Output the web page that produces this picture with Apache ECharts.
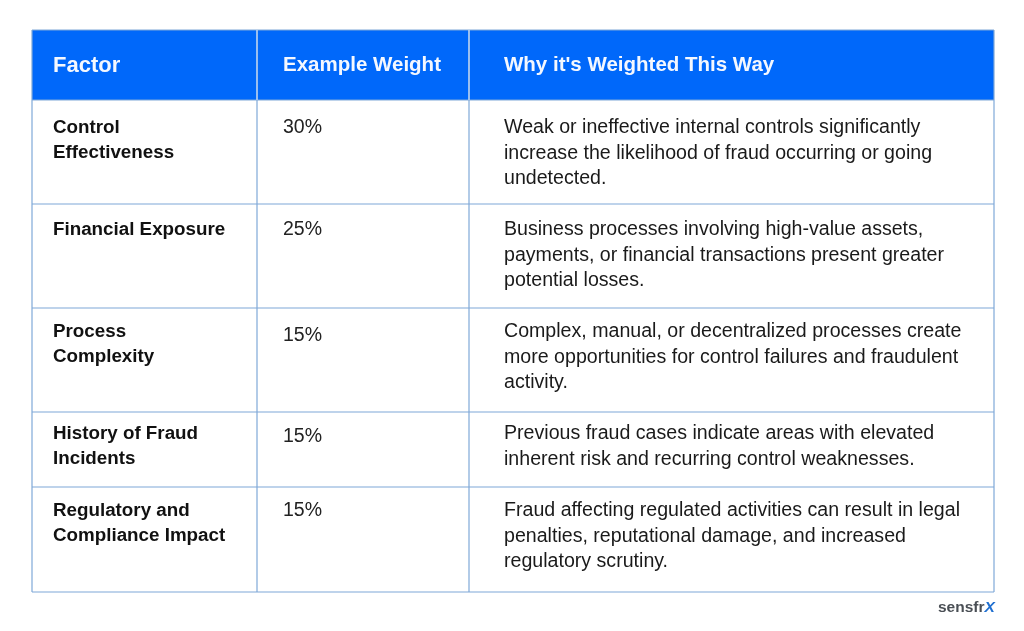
<!DOCTYPE html>
<html><head><meta charset="utf-8">
<style>html,body{margin:0;padding:0;background:#fff}#c{width:1024px;height:631px}</style>
<script src="https://cdn.jsdelivr.net/npm/echarts@6/dist/echarts.min.js"></script>
</head><body><div id="c"></div>
<script>
const headers = ["Factor", "Example Weight", "Why it's Weighted This Way"];
const factors = [["Control","Effectiveness"],["Financial Exposure"],["Process","Complexity"],["History of Fraud","Incidents"],["Regulatory and","Compliance Impact"]];
const weights = ["30%","25%","15%","15%","15%"];
const reasons = [
 ["Weak or ineffective internal controls significantly","increase the likelihood of fraud occurring or going","undetected."],
 ["Business processes involving high-value assets,","payments, or financial transactions present greater","potential losses."],
 ["Complex, manual, or decentralized processes create","more opportunities for control failures and fraudulent","activity."],
 ["Previous fraud cases indicate areas with elevated","inherent risk and recurring control weaknesses."],
 ["Fraud affecting regulated activities can result in legal","penalties, reputational damage, and increased","regulatory scrutiny."]
];
// layout
const colEdges = [32,257,469,994];
const rowEdges = [30,100,204,308,412,487,592];
const colText = [53,283,504];
const firstLineY = [127.5,229.5,331.5,433.5,510.5];
const weightY = [128,230,336,437,511];
const lineGap = 25.7;
const FONT = '"Liberation Sans", Arial, sans-serif';
const LINE = '#7fa8d8', BLUE = '#0068fa';

const chart = echarts.init(document.getElementById('c'), null, {renderer:'canvas'});
function txt(api,x,y,s,size,weight,color){
  const p = api.coord([x,y]);
  return {type:'text',style:{x:p[0],y:p[1],text:s,fontFamily:FONT,fontSize:size,fontWeight:weight,fill:color,verticalAlign:'middle',align:'left'},silent:true};
}
function seg(api,x1,y1,x2,y2,color){
  const a=api.coord([x1,y1]),b=api.coord([x2,y2]);
  return {type:'line',shape:{x1:a[0],y1:a[1],x2:b[0],y2:b[1]},style:{stroke:color,lineWidth:1.2}};
}
function render(params,api){
  const kids=[];
  const a=api.coord([colEdges[0],rowEdges[0]]),b=api.coord([colEdges[3],rowEdges[1]]);
  if(params.dataIndex===0){
    kids.push({type:'rect',shape:{x:a[0],y:a[1],width:b[0]-a[0],height:b[1]-a[1]},style:{fill:BLUE}});
    rowEdges.slice(1).forEach(y=>kids.push(seg(api,colEdges[0],y,colEdges[3],y,LINE)));
    colEdges.forEach(x=>kids.push(seg(api,x,rowEdges[0],x,rowEdges[6],LINE)));
    kids.push(seg(api,colEdges[0],rowEdges[0],colEdges[3],rowEdges[0],LINE));
    kids.push(seg(api,colEdges[1],rowEdges[0],colEdges[1],rowEdges[1],'#cfe0f7'));
    kids.push(seg(api,colEdges[2],rowEdges[0],colEdges[2],rowEdges[1],'#cfe0f7'));
    headers.forEach((h,i)=>kids.push(txt(api,colText[i],65.5,h,i===0?22:20.5,'bold','#f4f8ff')));
    kids.push({type:'text',style:{x:api.coord([938,0])[0],y:api.coord([0,608])[1],text:'{a|sensfr}{b|X}',verticalAlign:'middle',rich:{a:{fontFamily:FONT,fontSize:15.5,fontWeight:'bold',fill:'#4a4f55'},b:{fontFamily:FONT,fontSize:15.5,fontWeight:'bold',fontStyle:'italic',fill:'#1f6fd0'}}}});
  } else {
    const r=params.dataIndex-1;
    factors[r].forEach((s,i)=>kids.push(txt(api,colText[0],firstLineY[r]+i*lineGap,s,18.8,'bold','#111')));
    kids.push(txt(api,colText[1],weightY[r],weights[r],19.5,'normal','#222'));
    reasons[r].forEach((s,i)=>kids.push(txt(api,colText[2],firstLineY[r]+i*lineGap,s,19.6,'normal','#1a1a1a')));
  }
  return {type:'group',children:kids};
}
chart.setOption({
  animation:false,
  backgroundColor:'#fff',
  grid:{left:0,right:0,top:0,bottom:0},
  xAxis:{type:'value',min:0,max:1024,show:false},
  yAxis:{type:'value',min:0,max:631,inverse:true,show:false},
  series:[{type:'custom',coordinateSystem:'cartesian2d',renderItem:render,clip:false,silent:true,
    encode:{x:0,y:1},
    data:[[0,0]].concat(weights.map((w,i)=>[i+1,i+1]))}]
});
</script></body></html>
